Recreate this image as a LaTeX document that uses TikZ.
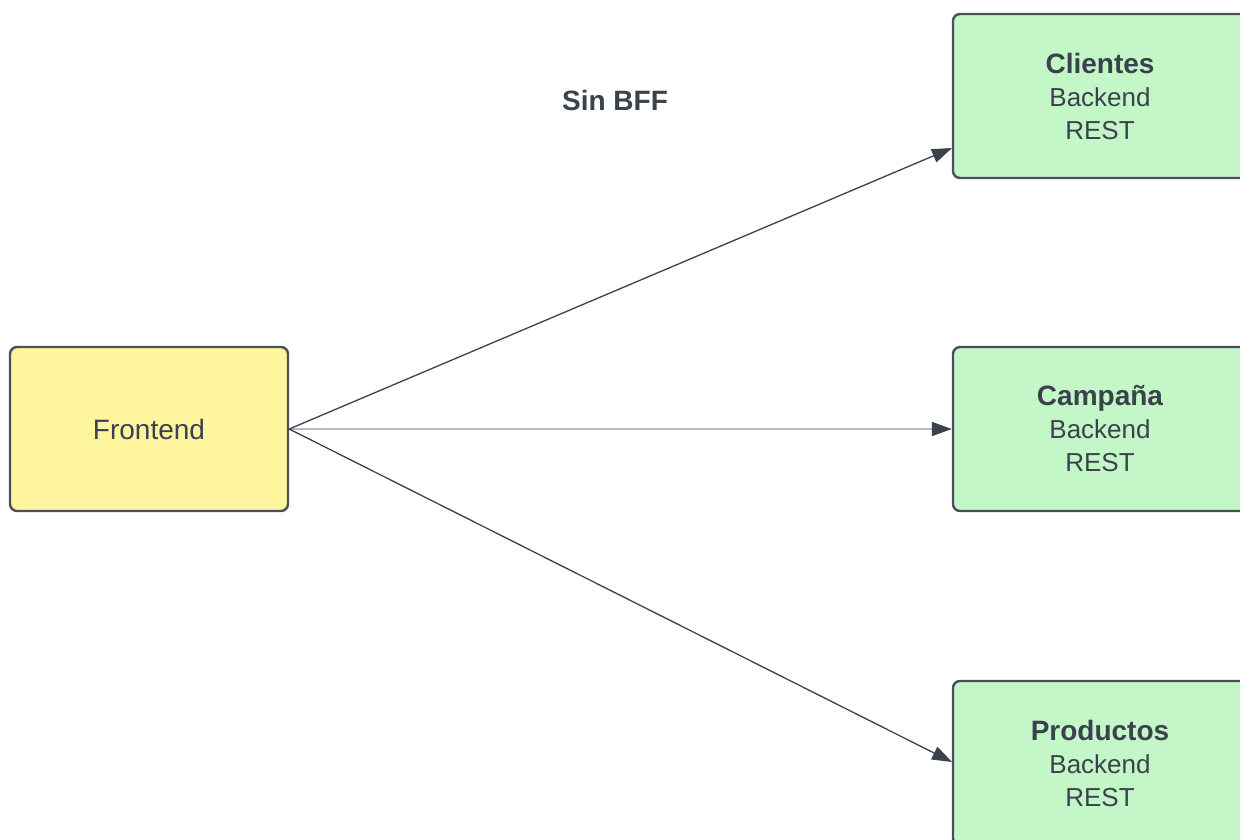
\documentclass[tikz,border=0pt]{standalone}
\usepackage{fontspec}
\setmainfont{Liberation Sans}
\usetikzlibrary{arrows.meta}
\definecolor{ink}{HTML}{3B424C}
\definecolor{edge}{HTML}{4A5059}
\definecolor{greenfill}{HTML}{C3F7C8}
\definecolor{yellowfill}{HTML}{FFF59F}
\definecolor{midline}{HTML}{B5BAC1}
\tikzset{
  box/.style={draw=edge, line width=2.4pt, rounded corners=7pt, inner sep=0pt,
    text=ink, align=center, font=\fontsize{26}{33}\selectfont},
  backend/.style={box, fill=greenfill, minimum width=294pt, minimum height=164pt},
  front/.style={box, fill=yellowfill, minimum width=278pt, minimum height=164pt, font=\fontsize{28}{33}\selectfont},
  conn/.style={draw=ink, line width=1.3pt, -{Triangle[length=20pt,width=14pt]}},
  connlight/.style={draw=midline, line width=2pt, -{Triangle[length=20pt,width=14pt,color=ink,fill=ink]}},
  title/.style={font=\fontsize{28}{33}\selectfont\bfseries}
}
\begin{document}
\begin{tikzpicture}[x=1pt,y=-1pt]
\path[use as bounding box] (0,0) rectangle (1240,839);
\fill[white] (0,0) rectangle (1240,839);
\clip (0,0) rectangle (1240,839);
\node[front] (fe) at (149,429) {Frontend};
\node[backend] (cl) at (1100,96) {{\fontsize{28}{33}\selectfont\bfseries Clientes}\\Backend\\REST};
\node[backend] (ca) at (1100,429) {{\fontsize{28}{33}\selectfont\bfseries Campaña}\\Backend\\REST};
\node[backend] (pr) at (1100,763) {{\fontsize{28}{33}\selectfont\bfseries Productos}\\Backend\\REST};
\node[title, text=ink] (t) at (615,100) {Sin BFF};
\coordinate (clin) at (952,148);
\coordinate (prin) at (952,762);
\draw[connlight] (fe.east) -- (ca.west);
\draw[conn] (fe.east) -- (clin);
\draw[conn] (fe.east) -- (prin);
\end{tikzpicture}
\end{document}
